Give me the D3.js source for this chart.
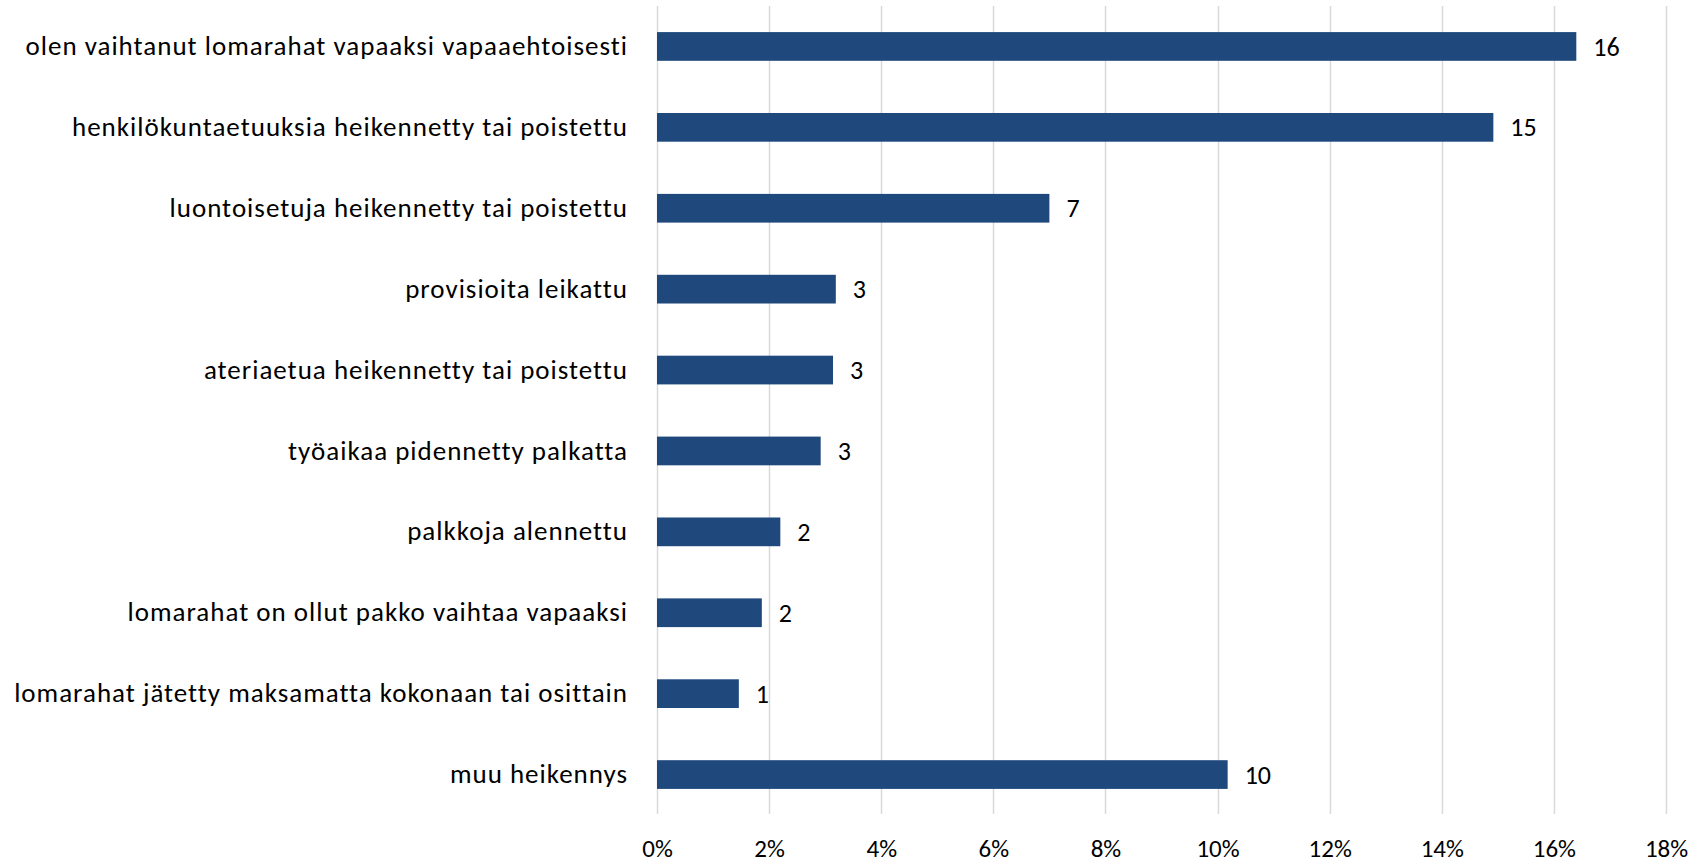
<!DOCTYPE html>
<html>
<head>
<meta charset="utf-8">
<script src="https://cdn.jsdelivr.net/npm/d3@7"></script>
<style>
  body { margin: 0; background: #fff; }
  text { font-family: Carlito, Lato, "Open Sans", sans-serif; fill: #000; }
</style>
</head>
<body>
<div id="chart"></div>
<script>
// Chart data
var categories = [
  "olen vaihtanut lomarahat vapaaksi vapaaehtoisesti",
  "henkilökuntaetuuksia heikennetty tai poistettu",
  "luontoisetuja heikennetty tai poistettu",
  "provisioita leikattu",
  "ateriaetua heikennetty tai poistettu",
  "työaikaa pidennetty palkatta",
  "palkkoja alennettu",
  "lomarahat on ollut pakko vaihtaa vapaaksi",
  "lomarahat jätetty maksamatta kokonaan tai osittain",
  "muu heikennys"
];
var shares = [16.4, 14.92, 7.0, 3.19, 3.14, 2.92, 2.2, 1.87, 1.46, 10.18];
var counts = [16, 15, 7, 3, 3, 3, 2, 2, 1, 10];
var xTicks = [0, 2, 4, 6, 8, 10, 12, 14, 16, 18];

var data = categories.map(function(c, i) {
  return { name: c, share: shares[i], count: counts[i] };
});

// SVG area
var svgWidth = 1707;
var svgHeight = 866;

var plot = { left: 657, right: 1666, top: 6, bottom: 815 };

var svg = d3.select("#chart")
  .append("svg")
  .attr("width", svgWidth)
  .attr("height", svgHeight);

// Scales
var xScale = d3.scaleLinear()
  .domain([0, 18])
  .range([plot.left, plot.right]);

var yScale = d3.scaleBand()
  .domain(categories)
  .range([plot.top, plot.bottom])
  .paddingInner(0.645)
  .paddingOuter(0.3225);

// Gridlines
svg.append("g")
  .selectAll("line")
  .data(xTicks)
  .enter()
  .append("line")
  .attr("x1", d => Math.round(xScale(d)) + 0.5)
  .attr("x2", d => Math.round(xScale(d)) + 0.5)
  .attr("y1", plot.top)
  .attr("y2", plot.bottom - 1)
  .attr("stroke", "#d9d9d9")
  .attr("stroke-width", 1.5);

// Bottom axis labels (no domain line, no ticks)
var bottomAxis = d3.axisBottom(xScale)
  .tickValues(xTicks)
  .tickFormat(d => d + "%")
  .tickSize(0)
  .tickPadding(0);

var xAxisGroup = svg.append("g")
  .attr("transform", "translate(0, 839)")
  .call(bottomAxis);
xAxisGroup.select(".domain").remove();
xAxisGroup.selectAll("text")
  .attr("dy", "0.71em")
  .style("font-size", "25px")
  .style("font-family", "Carlito, Lato, 'Open Sans', sans-serif")
  .attr("fill", "#000");

// Left axis labels
var leftAxis = d3.axisLeft(yScale)
  .tickSize(0)
  .tickPadding(29);

var yAxisGroup = svg.append("g")
  .attr("transform", `translate(${plot.left}, 0)`)
  .call(leftAxis);
yAxisGroup.select(".domain").remove();
yAxisGroup.selectAll("text")
  .style("font-size", "27px")
  .style("letter-spacing", "1px")
  .style("font-family", "Carlito, Lato, 'Open Sans', sans-serif")
  .attr("fill", "#000");

// Bars
svg.append("g")
  .selectAll("rect")
  .data(data)
  .enter()
  .append("rect")
  .attr("x", xScale(0))
  .attr("y", d => yScale(d.name))
  .attr("width", d => xScale(d.share) - xScale(0))
  .attr("height", yScale.bandwidth())
  .attr("fill", "#1f497d");

// Value labels
svg.append("g")
  .selectAll("text")
  .data(data)
  .enter()
  .append("text")
  .attr("x", d => xScale(d.share) + 17)
  .attr("y", d => yScale(d.name) + yScale.bandwidth() / 2)
  .attr("dy", "0.35em")
  .style("font-size", "26px")
  .text(d => d.count);
</script>
</body>
</html>
